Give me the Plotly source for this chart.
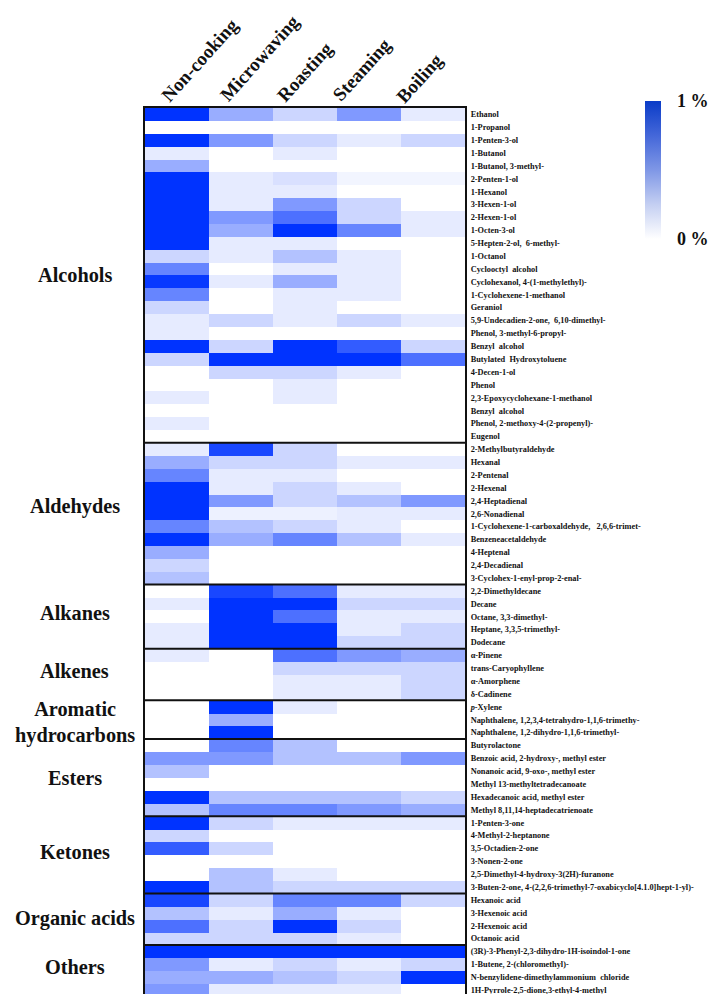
import plotly.graph_objects as go

methods = ["Non-cooking", "Microwaving", "Roasting", "Steaming", "Boiling"]

alcohol_names = ["Ethanol", "1-Propanol", "1-Penten-3-ol", "1-Butanol", "1-Butanol, 3-methyl-", "2-Penten-1-ol",
    "1-Hexanol", "3-Hexen-1-ol", "2-Hexen-1-ol", "1-Octen-3-ol", "5-Hepten-2-ol,  6-methyl-", "1-Octanol",
    "Cyclooctyl  alcohol", "Cyclohexanol, 4-(1-methylethyl)-", "1-Cyclohexene-1-methanol", "Geraniol",
    "5,9-Undecadien-2-one,  6,10-dimethyl-", "Phenol, 3-methyl-6-propyl-", "Benzyl  alcohol",
    "Butylated  Hydroxytoluene", "4-Decen-1-ol", "Phenol", "2,3-Epoxycyclohexane-1-methanol", "Benzyl  alcohol",
    "Phenol, 2-methoxy-4-(2-propenyl)-", "Eugenol"]
alcohol_vals = [[1.0, .4, .2, .5, .1], [0, 0, 0, 0, 0], [1.0, .5, .2, .1, .2], [.1, 0, .1, 0, 0], [.4, 0, 0, 0, 0],
    [1.0, .1, .15, .05, .05], [1.0, .1, .1, 0, 0], [1.0, .1, .5, .2, 0], [1.0, .5, .7, .2, .1], [1.0, .4, 1.0, .6, .1],
    [1.0, .1, .1, 0, 0], [.2, .1, .3, .1, 0], [.6, 0, .1, .1, 0], [.97, .1, .4, .1, 0], [.6, 0, .1, .1, 0],
    [.2, 0, .1, 0, 0], [.1, .2, .1, .2, .1], [.1, 0, 0, 0, 0], [1.0, .2, 1.0, .8, .2], [.2, 1.0, 1.0, 1.0, .7],
    [0, .2, .2, .1, 0], [0, 0, .1, 0, 0], [.1, 0, .1, 0, 0], [0, 0, 0, 0, 0], [.1, 0, 0, 0, 0], [0, 0, 0, 0, 0]]

aldehyde_names = ["2-Methylbutyraldehyde", "Hexanal", "2-Pentenal", "2-Hexenal", "2,4-Heptadienal", "2,6-Nonadienal",
    "1-Cyclohexene-1-carboxaldehyde,   2,6,6-trimet-", "Benzeneacetaldehyde", "4-Heptenal", "2,4-Decadienal",
    "3-Cyclohex-1-enyl-prop-2-enal-"]
aldehyde_vals = [[.1, .9, .2, 0, 0], [.4, .2, .2, .1, .1], [.6, .1, .1, 0, 0], [1.0, .1, .2, .1, 0], [1.0, .5, .2, .3, .5],
    [1.0, .07, .07, .1, .1], [.6, .3, .2, .1, 0], [1.0, .4, .6, .3, .1], [.4, 0, 0, 0, 0], [.2, 0, 0, 0, 0], [.3, 0, 0, 0, 0]]

alkane_names = ["2,2-Dimethyldecane", "Decane", "Octane, 3,3-dimethyl-", "Heptane, 3,3,5-trimethyl-", "Dodecane"]
alkane_vals = [[0, .9, .7, .1, .1], [.1, 1.0, 1.0, .2, .2], [0, 1.0, .7, .1, .1], [.1, 1.0, 1.0, .1, .2], [.1, 1.0, 1.0, .2, .2]]

alkene_names = ["α-Pinene", "trans-Caryophyllene", "α-Amorphene", "δ-Cadinene"]
alkene_vals = [[.1, 0, .7, .5, .4], [0, 0, .2, .2, .2], [0, 0, .1, .1, .2], [0, 0, .1, .1, .2]]

aromatic_names = ["<i>p</i>-Xylene", "Naphthalene, 1,2,3,4-tetrahydro-1,1,6-trimethy-", "Naphthalene, 1,2-dihydro-1,1,6-trimethyl-"]
aromatic_vals = [[0, 1.0, .1, 0, 0], [0, .4, 0, 0, 0], [0, 1.0, 0, 0, 0]]

ester_names = ["Butyrolactone", "Benzoic acid, 2-hydroxy-, methyl ester", "Nonanoic acid, 9-oxo-, methyl ester",
    "Methyl 13-methyltetradecanoate", "Hexadecanoic acid, methyl ester", "Methyl 8,11,14-heptadecatrienoate"]
ester_vals = [[0, .6, .3, 0, 0], [.5, .5, .3, .3, .5], [.3, 0, 0, 0, 0], [0, 0, 0, 0, 0], [1.0, .3, .3, .3, .2], [.3, .6, .6, .5, .4]]

ketone_names = ["1-Penten-3-one", "4-Methyl-2-heptanone", "3,5-Octadien-2-one", "3-Nonen-2-one",
    "2,5-Dimethyl-4-hydroxy-3(2H)-furanone", "3-Buten-2-one, 4-(2,2,6-trimethyl-7-oxabicyclo[4.1.0]hept-1-yl)-"]
ketone_vals = [[1.0, .2, .1, .1, .1], [.2, 0, 0, 0, 0], [.8, .2, 0, 0, 0], [0, 0, 0, 0, 0], [0, .3, .1, 0, 0], [1.0, .3, .2, .2, .2]]

acid_names = ["Hexanoic acid", "3-Hexenoic acid", "2-Hexenoic acid", "Octanoic acid"]
acid_vals = [[.9, .2, .6, .6, .2], [.3, .1, .4, .1, 0], [.7, .2, 1.0, .2, 0], [.2, .2, .2, .1, 0]]

other_names = ["(3R)-3-Phenyl-2,3-dihydro-1H-isoindol-1-one", "1-Butene, 2-(chloromethyl)-",
    "N-benzylidene-dimethylammonium  chloride", "1H-Pyrrole-2,5-dione,3-ethyl-4-methyl"]
other_vals = [[1.0, 1.0, 1.0, 1.0, 1.0], [.5, .1, .2, .1, .2], [.4, .4, .3, .2, 1.0], [.5, .1, .1, .1, 0]]

name_groups = [alcohol_names, aldehyde_names, alkane_names, alkene_names, aromatic_names, ester_names, ketone_names, acid_names, other_names]
val_groups = [alcohol_vals, aldehyde_vals, alkane_vals, alkene_vals, aromatic_vals, ester_vals, ketone_vals, acid_vals, other_vals]
group_titles = ["Alcohols", "Aldehydes", "Alkanes", "Alkenes", "Aromatic<br>hydrocarbons", "Esters", "Ketones", "Organic acids", "Others"]

names = [n for g in name_groups for n in g]
z = [r for g in val_groups for r in g]
rows = list(range(len(names)))

W, H = 711, 994
L, R, T = 144.5, 465, 108
PW, PH = R - L, H - T
ROW_H = 12.877
FONT = "Liberation Serif"

def px(x):
    return (x - L) / PW

def py(y):
    return 1 - (y - T) / PH

main_scale = [[0, "#ffffff"], [1, "#0033ff"]]
legend_scale = [[0, "#ffffff"], [0.25, "#c4cff2"], [0.5, "#7f97e6"], [0.75, "#4467d9"], [1, "#0a3cc8"]]

fig = go.Figure()
# Same values under the visible map: this trace carries the legend's own darker ramp.
fig.add_trace(go.Heatmap(z=z, x=methods, y=rows, coloraxis="coloraxis2", hoverinfo="skip"))
fig.add_trace(go.Heatmap(z=z, x=methods, y=rows, coloraxis="coloraxis"))

shapes = []
edge = -0.5
for g in name_groups[:-1]:
    edge += len(g)
    shapes.append(dict(type="line", xref="x domain", yref="y", x0=0, x1=1, y0=edge, y1=edge,
                       line=dict(color="#111111", width=2)))

annotations = []
title_y = [275, 506, 613, 671, 722, 778, 852, 918, 967]
for t, y in zip(group_titles, title_y):
    annotations.append(dict(text=f"<b>{t}</b>", xref="paper", yref="paper", x=px(74), y=py(y), xanchor="center",
                            yanchor="middle", showarrow=False, font=dict(family=FONT, size=20.3, color="#111111")))

method_xy = [(200, 60), (260, 58), (305, 72), (362, 70), (419, 78)]
for m, (x, y) in zip(methods, method_xy):
    annotations.append(dict(text=f"<b>{m}</b>", xref="paper", yref="paper", x=px(x), y=py(y), xanchor="center",
                            yanchor="middle", showarrow=False, textangle=-48, font=dict(family=FONT, size=19, color="#111111")))

fig.update_layout(
    width=W, height=H, autosize=False,
    margin=dict(l=L, r=W - R, t=T, b=0, pad=0, autoexpand=False),
    paper_bgcolor="white", plot_bgcolor="white",
    shapes=shapes, annotations=annotations,
    coloraxis=dict(cmin=0, cmax=1, colorscale=main_scale, showscale=False),
    coloraxis2=dict(cmin=0, cmax=1, colorscale=legend_scale, showscale=True,
        colorbar=dict(x=px(645), xanchor="left", xref="paper", y=py(101), yanchor="top", yref="paper", xpad=0, ypad=0,
            lenmode="pixels", len=138, thicknessmode="pixels", thickness=16, outlinewidth=0, borderwidth=0,
            tickvals=[0, 1], ticktext=["<b>0 %</b>", "<b>1 %</b>"], ticks="outside", ticklen=13, tickcolor="rgba(0,0,0,0)",
            tickfont=dict(family=FONT, size=18, color="#111111"))),
    xaxis=dict(side="top", range=[-0.5, 4.5], showticklabels=False, ticks="", showgrid=False, zeroline=False,
               showline=True, mirror=True, linecolor="#111111", linewidth=2),
    yaxis=dict(range=[(H - T) / ROW_H - 0.5, -0.5], side="right", tickmode="array", tickvals=rows, ticktext=names,
               ticks="outside", ticklen=2, tickcolor="rgba(0,0,0,0)", showgrid=False, zeroline=False,
               showline=True, mirror=True, linecolor="#111111", linewidth=2, ticklabeloverflow="allow",
               tickfont=dict(family=FONT, size=8.3, color="#111111", weight="bold")),
)
fig.write_html("out.html", config={"displayModeBar": False},
               post_script="document.body.style.margin='0';document.body.style.overflow='hidden';")
